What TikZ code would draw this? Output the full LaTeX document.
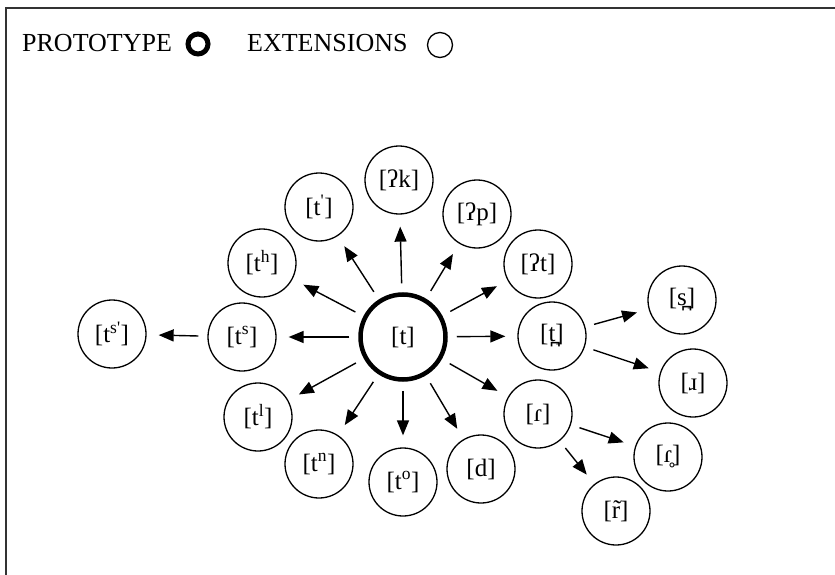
\documentclass[tikz,border=0pt]{standalone}
\usepackage{fontspec}
\setmainfont{Liberation Serif}
\newfontfamily\ipa{Liberation Serif}
\usetikzlibrary{arrows.meta}
\newcommand\ipasup[1]{\textsuperscript{#1}}

\begin{document}
\begin{tikzpicture}[x=1pt,y=-1pt,
  ext/.style={circle, draw, line width=1.3pt, minimum size=68pt, inner sep=0pt,
    font=\ipa\fontsize{25}{25}\selectfont},
  proto/.style={ext, line width=4.5pt, minimum size=85pt},
  link/.style={-{Triangle[length=15pt,width=12pt]}, line width=1.4pt,
    shorten <=9pt, shorten >=12pt},
  legend/.style={font=\fontsize{26}{26}\selectfont, inner sep=0pt, anchor=base west},
  keyproto/.style={circle, draw, line width=5pt, minimum size=20pt, inner sep=0pt},
  keyext/.style={circle, draw, line width=1.3pt, minimum size=25pt, inner sep=0pt},
  frameline/.style={line width=2pt, draw=black!80}]

\useasboundingbox (0,0) rectangle (835,575);

% frame
\coordinate (fbl) at (6,575);
\coordinate (ftl) at (6,8);
\coordinate (ftr) at (835,8);
\draw[frameline] (fbl) -- (ftl) -- (ftr);

% legend
\node[legend] (lp) at (22,52) {PROTOTYPE};
\node[keyproto] (kp) at (198,44) {};
\node[legend] (le) at (247,52) {EXTENSIONS};
\node[keyext] (ke) at (440,45) {};

% prototype
\node[proto] (t) at (403,337) {[t]};

% extensions around the prototype
\node[ext] (gk)  at (399,180) {[ʔk]};
\node[ext] (tej) at (319,207) {[t\ipasup{'}]};
\node[ext] (gp)  at (477,214) {[ʔp]};
\node[ext] (th)  at (262,263) {[t\ipasup{h}]};
\node[ext] (gt)  at (538,264) {[ʔt]};
\node[ext] (ts)  at (242,337) {[t\ipasup{s}]};
\node[ext] (tss) at (112,334) {[t\ipasup{s'}]};
\node[ext] (tdn) at (552,336) {[t̪]};
\node[ext] (sdn) at (682,300) {[s̪]};
\node[ext] (tl)  at (258,417) {[t\ipasup{l}]};
\node[ext] (tap) at (538,414) {[ɾ]};
\node[ext] (rap) at (693,383) {[ɹ]};
\node[ext] (tn)  at (319,464) {[t\ipasup{n}]};
\node[ext] (d)   at (481,469) {[d]};
\node[ext] (tvl) at (668,457) {[ɾ̥]};
\node[ext] (to)  at (403,482) {[t\ipasup{o}]};
\node[ext] (rn)  at (616,511) {[r̃]};

% links
\foreach \n in {gk,tej,gp,th,gt,ts,tdn,tl,tap,tn,to,d}
  \draw[link] (t) -- (\n);
\draw[link] (ts) -- (tss);
\draw[link] (tdn) -- (sdn);
\draw[link] (tdn) -- (rap);
\draw[link] (tap) -- (tvl);
\draw[link] (tap) -- (rn);
\end{tikzpicture}
\end{document}
